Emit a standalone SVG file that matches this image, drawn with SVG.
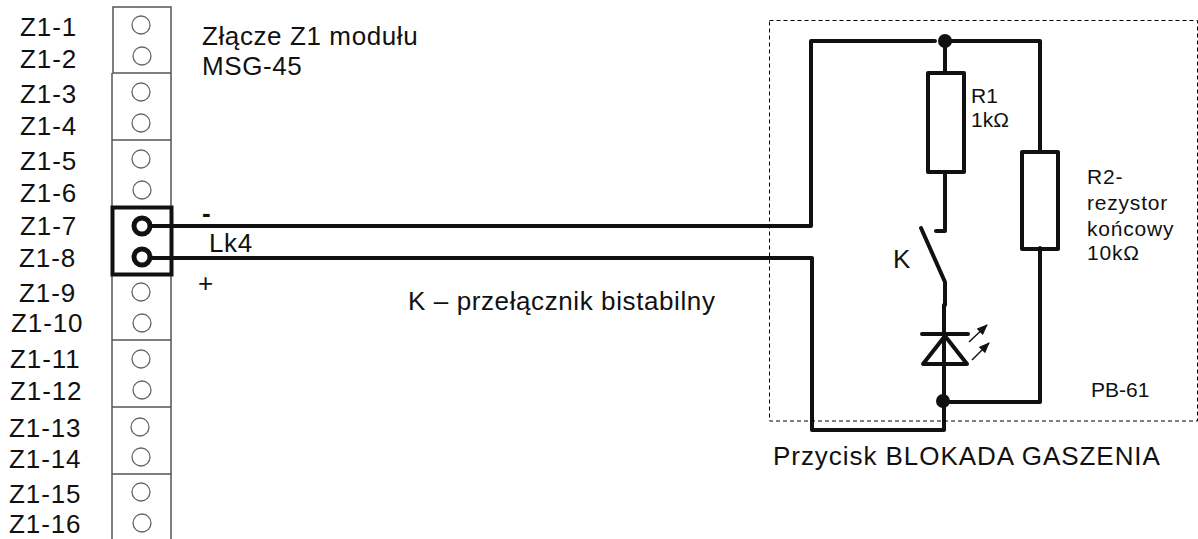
<svg xmlns="http://www.w3.org/2000/svg" width="1198" height="539" viewBox="0 0 1198 539">
<style>
text{font-family:"Liberation Sans",Arial,sans-serif;fill:#111}
.z{font-size:26px;letter-spacing:.9px}
.m{font-size:26px;letter-spacing:.6px}
.p{font-size:26px;letter-spacing:.95px}
.s{font-size:21px}
.r{font-size:21px;letter-spacing:.8px}
.t{fill:none;stroke:#555;stroke-width:1.5}
.d{fill:none;stroke:#000;stroke-width:1;stroke-dasharray:4 3}
.c{fill:#fff;stroke:#666;stroke-width:1.3}
.w{fill:none;stroke:#111;stroke-width:4;stroke-linejoin:round;stroke-linecap:round}
.b{fill:#111}
.a{stroke:#111;stroke-width:1.5;marker-end:url(#a)}
</style>
<defs><marker id="a" markerUnits="userSpaceOnUse" markerWidth="12" markerHeight="10" refX="10" refY="5" orient="auto"><path d="M0 0.500L11 5L0 9.500Z" fill="#111"/></marker></defs>
<rect width="1198" height="539" fill="#fff"/>
<g id="terminal-strip">
<path class="t" d="M113 7H171V73H113ZM112 73V539M171 73V539M112 140H171M112 340H171M112 407H171M112 474H171"/>
<circle class="c" cx="141" cy="25" r="9"/><circle class="c" cx="142" cy="56" r="9"/>
<circle class="c" cx="141" cy="92" r="9"/><circle class="c" cx="141" cy="123" r="9"/>
<circle class="c" cx="141" cy="159" r="9"/><circle class="c" cx="142" cy="190" r="9"/>
<circle class="c" cx="141" cy="292" r="9"/><circle class="c" cx="142" cy="323" r="9"/>
<circle class="c" cx="141" cy="359" r="9"/><circle class="c" cx="142" cy="390" r="9"/>
<circle class="c" cx="140" cy="427" r="9"/><circle class="c" cx="141" cy="457" r="9"/>
<circle class="c" cx="141" cy="492" r="9"/><circle class="c" cx="142" cy="523" r="9"/>
</g>
<g id="terminal-labels">
<text class="z" x="20" y="36">Z1-1</text><text class="z" x="20" y="68">Z1-2</text>
<text class="z" x="20" y="103">Z1-3</text><text class="z" x="20" y="135">Z1-4</text>
<text class="z" x="20" y="170">Z1-5</text><text class="z" x="20" y="202">Z1-6</text>
<text class="z" x="20" y="235">Z1-7</text><text class="z" x="19" y="267">Z1-8</text>
<text class="z" x="19" y="302">Z1-9</text><text class="z" x="11" y="332">Z1-10</text>
<text class="z" x="10" y="368">Z1-11</text><text class="z" x="10" y="400">Z1-12</text>
<text class="z" x="9" y="437">Z1-13</text><text class="z" x="9" y="468">Z1-14</text>
<text class="z" x="9" y="503">Z1-15</text><text class="z" x="9" y="533">Z1-16</text>
</g>
<g id="connector-Lk4">
<rect x="112.500" y="207.500" width="59" height="67" fill="none" stroke="#111" stroke-width="4"/>
<circle cx="142" cy="226" r="8" fill="#fff" stroke="#111" stroke-width="5"/>
<circle cx="142" cy="257" r="8" fill="#fff" stroke="#111" stroke-width="5"/>
<text class="m" x="209" y="252">Lk4</text>
<text class="m" x="202" y="222" font-weight="bold">-</text>
<text class="m" x="198" y="292">+</text>
</g>
<g id="wires">
<path class="w" d="M150 226H811V41H935M945 41H1040V152M1040 248V402H943M150 258H812V430H944V305M945 41V73M945 172V231H936M945 305V282L921 228M922 334H968"/>
<path class="w" d="M945 336L923 364H967Z"/>
<path class="a" d="M969 342L987 325"/>
<path class="a" d="M972 360L989 343"/>
</g>
<g id="junction-top"><circle class="b" cx="945" cy="41" r="7"/></g>
<g id="junction-bottom"><circle class="b" cx="943" cy="401" r="7"/></g>
<g id="R1"><rect class="w" x="928" y="73" width="36" height="99"/>
<text class="s" x="971" y="103">R1</text><text class="s" x="971" y="127">1kΩ</text></g>
<g id="R2"><rect class="w" x="1022" y="152" width="36" height="97"/>
<text class="r" x="1087" y="184">R2-</text><text class="r" x="1087" y="210">rezystor</text><text class="r" x="1087" y="236">końcowy</text><text class="r" x="1087" y="260">10kΩ</text></g>
<g id="box"><rect class="d" x="769.500" y="20.500" width="428" height="400.500"/></g>
<text class="m" x="893" y="268">K</text>
<text class="s" x="1091" y="397">PB-61</text>
<text class="p" x="773" y="465">Przycisk BLOKADA GASZENIA</text>
<text class="m" x="202" y="45">Złącze Z1 modułu</text>
<text class="m" x="202" y="75">MSG-45</text>
<text class="m" x="408" y="310">K – przełącznik bistabilny</text>
</svg>
